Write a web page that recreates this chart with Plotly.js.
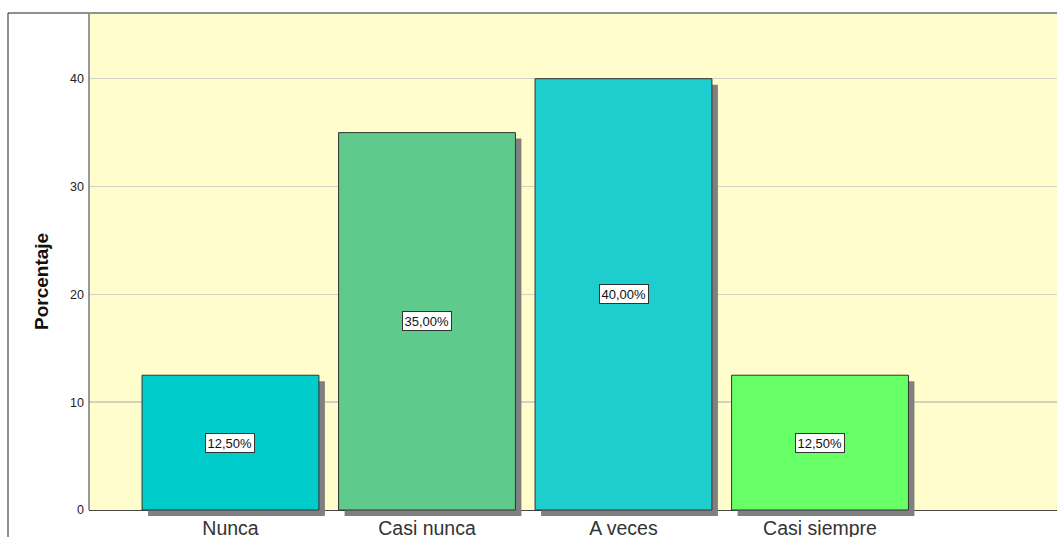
<!DOCTYPE html>
<html>
<head>
<meta charset="utf-8">
<script src="https://cdn.plot.ly/plotly-3.0.1.min.js"></script>
<style>html,body{margin:0;padding:0;background:#fff;}#chart{width:1057px;height:537px;}</style>
</head>
<body>
<div id="chart"></div>
<script>
// Data
const categories = ["Nunca", "Casi nunca", "A veces", "Casi siempre"];
const percentages = [12.5, 35.0, 40.0, 12.5];
const barColors = ["#00CCCC", "#5ECA8B", "#1ECDCD", "#66FF66"];
const yTickValues = [0, 10, 20, 30, 40];

const W = 1057, H = 537;
const margin = {l: 89, r: 0, t: 14, b: 21};
const plotW = W - margin.l - margin.r;
const plotH = H - margin.t - margin.b;
const shadowPx = 6;
const xRange = [-0.72, 4.206];
const yTop = 46.0;
const pxPerYApprox = 10.78;
const yRange = [-shadowPx / pxPerYApprox, yTop];
const pxPerX = plotW / (xRange[1] - xRange[0]);
const pxPerY = plotH / (yRange[1] - yRange[0]);
const barW = 0.9;
const FONT = 'Liberation Sans, Arial, sans-serif';

const idx = categories.map((c, i) => i);
const labels = percentages.map(v => v.toFixed(2).replace('.', ',') + '%');

const shadow = {
  type: 'bar', x: idx, y: percentages,
  base: percentages.map(() => -shadowPx / pxPerY),
  width: barW, offset: -barW / 2 + shadowPx / pxPerX,
  marker: {color: '#808080', line: {width: 0}},
  hoverinfo: 'skip', showlegend: false
};
const bars = {
  type: 'bar', x: idx, y: percentages,
  width: barW, offset: -barW / 2,
  marker: {color: barColors, line: {color: '#333333', width: 1}},
  hoverinfo: 'skip', showlegend: false
};

const annotations = percentages.map((v, i) => ({
  x: i, y: v / 2, xref: 'x', yref: 'y', text: labels[i], showarrow: false,
  font: {family: FONT, size: 13, color: '#111'},
  bgcolor: '#ffffff', bordercolor: '#333333', borderwidth: 1, borderpad: 1.5
}));
annotations.push({
  xref: 'paper', yref: 'paper', x: (41 - margin.l) / plotW, y: (H - margin.b - 282) / plotH,
  xanchor: 'center', yanchor: 'middle',
  text: '<b>Porcentaje</b>', textangle: -90, showarrow: false,
  font: {family: FONT, size: 19, color: '#111111'}
});

const layout = {
  width: W, height: H, margin: margin,
  paper_bgcolor: '#ffffff', plot_bgcolor: 'rgba(0,0,0,0)',
  barmode: 'overlay', showlegend: false,
  xaxis: {
    range: xRange, tickvals: idx, ticktext: categories, ticks: '', ticklabelstandoff: -2,
    showgrid: false, zeroline: false, showline: false,
    tickfont: {family: FONT, size: 19.5, color: '#333333'}
  },
  yaxis: {
    range: yRange, tickvals: yTickValues, ticks: '', ticklabelstandoff: 4,
    showgrid: true, gridcolor: '#D2D2C2', gridwidth: 1.5,
    zeroline: true, zerolinecolor: '#444444', zerolinewidth: 1,
    showline: false,
    tickfont: {family: FONT, size: 12.5, color: '#222222'}
  },
  shapes: [
    {type: 'rect', xref: 'paper', yref: 'y', x0: 0, x1: 1, y0: 0, y1: yTop,
     fillcolor: '#FFFDCC', line: {width: 0}, layer: 'below'},
    {type: 'line', xref: 'paper', yref: 'y', x0: 0, x1: 0, y0: 0, y1: yTop,
     line: {color: '#777777', width: 1.5}, layer: 'above'},
    {type: 'path', xref: 'paper', yref: 'paper',
     path: 'M ' + ((8 - margin.l) / plotW) + ' -0.2 L ' + ((8 - margin.l) / plotW) + ' ' + ((H - margin.b - 13) / plotH) + ' L 1.2 ' + ((H - margin.b - 13) / plotH),
     line: {color: '#222222', width: 1}, layer: 'above'}
  ],
  annotations: annotations
};

Plotly.newPlot('chart', [shadow, bars], layout, {displayModeBar: false, staticPlot: true});
</script>
</body>
</html>
